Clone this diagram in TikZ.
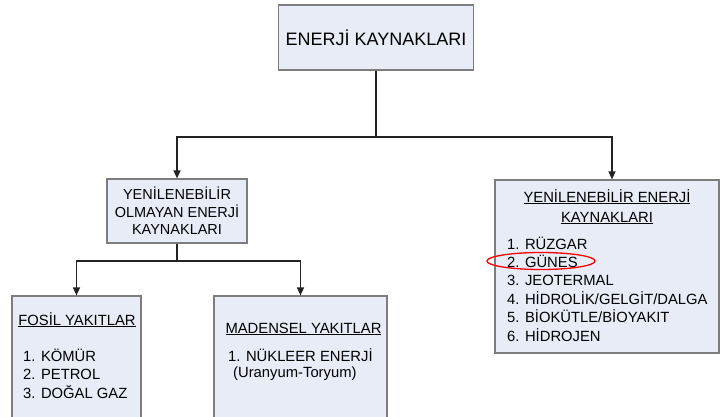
\documentclass[tikz,border=0pt]{standalone}
\usepackage{fontspec}
\setmainfont{Liberation Sans}
\usetikzlibrary{arrows.meta,positioning,calc}
\definecolor{boxfill}{RGB}{231,236,247}
\definecolor{boxdraw}{RGB}{125,125,125}
\definecolor{linkcol}{RGB}{35,35,35}
\tikzset{
  srcbox/.style args={#1,#2}{
  draw=boxdraw,
  fill=boxfill,
  line width=1.2pt,
  minimum width=#1pt,
  minimum height=#2pt,
  inner sep=0pt,
  },
  link/.style={draw=linkcol,line width=1.4pt,-{Triangle[length=8pt,width=7pt]}},
  boxtext/.style={font=\fontsize{14.5}{17.5}\selectfont,align=center},
  titletext/.style={font=\fontsize{14.8}{20}\selectfont,align=center,anchor=base,inner sep=0pt},
  listtext/.style={font=\fontsize{14.8}{18.4}\selectfont,align=left,anchor=base west,inner sep=0pt}
}

\begin{document}
\begin{tikzpicture}[x=1pt,y=-1pt]
  \useasboundingbox (0,0) rectangle (721,416);

  \node [srcbox={195,65},font=\fontsize{18}{22}\selectfont] (top) at (376,37.5) {ENERJİ KAYNAKLARI};
  \node [srcbox={140,64},boxtext] (nonren) at (177,211) {YENİLENEBİLİR\\OLMAYAN ENERJİ\\KAYNAKLARI};
  \node [srcbox={224,173}] (ren) at (607,266.5) {};
  \node [srcbox={129,140}] (fosil) at (76.5,366) {};
  \node [srcbox={173,140}] (maden) at (300.5,366) {};

  % texts inside the boxes (anchored at the baseline of their last line)
  \node [titletext] (rentitle) at (607,222) {\underline{YENİLENEBİLİR ENERJİ}\\\underline{KAYNAKLARI}};
  \node [listtext] (renlist) at (507,341) {1. RÜZGAR\\2. GÜNES\\3. JEOTERMAL\\4. HİDROLİK/GELGİT/DALGA\\5. BİOKÜTLE/BİOYAKIT\\6. HİDROJEN};
  \node [titletext] (fosiltitle) at (77,325) {\underline{FOSİL YAKITLAR}};
  \node [listtext] (fosillist) at (23,398.3) {1. KÖMÜR\\2. PETROL\\3. DOĞAL GAZ};
  \node [titletext] (madentitle) at (303.5,333) {\underline{MADENSEL YAKITLAR}};
  \node [listtext,font=\fontsize{14.8}{15.5}\selectfont] (madenlist) at (228,377) {1. NÜKLEER ENERJİ\\\hspace*{5pt}(Uranyum-Toryum)};

  \coordinate (split1) at (376,137);
  \coordinate (split2) at (177,261);
  \draw [link] (top.south) -- (split1) -| (nonren.north);
  \draw [link] (split1) -| ([xshift=5pt]ren.north);
  \draw [link] (nonren.south) -- (split2) -| (fosil.north);
  \draw [link] (split2) -| (maden.north);

  \draw [red,line width=1.3pt] (541,261) ellipse [x radius=54,y radius=8.5];
\end{tikzpicture}
\end{document}
